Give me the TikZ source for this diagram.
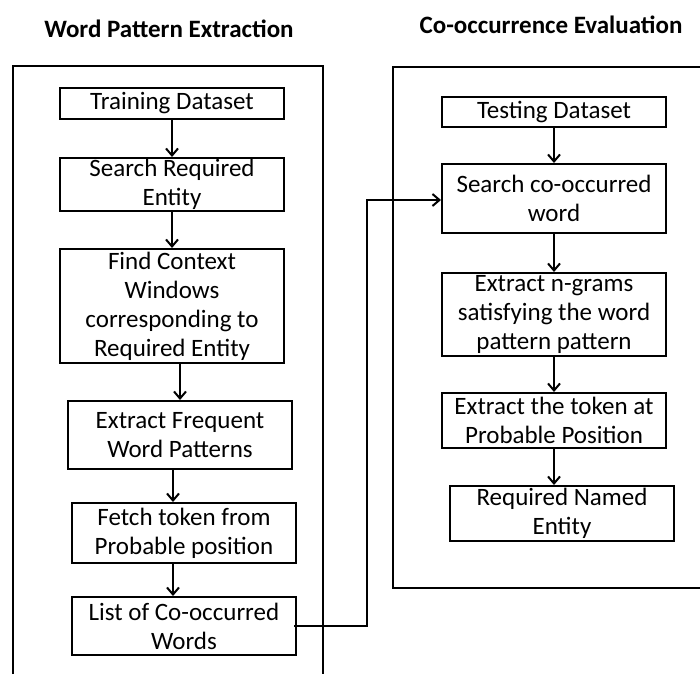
\documentclass[tikz,border=0pt]{standalone}
\usepackage{fontspec}
\setmainfont{Carlito}
\usetikzlibrary{arrows.meta}

\begin{document}
\begin{tikzpicture}[x=1pt,y=-1pt,
		blk/.style={draw,line width=2pt,minimum width=224pt,align=center,inner sep=0pt,font=\fontsize{25}{29}\selectfont},
		arr/.style={line width=2pt,-{Straight Barb[length=7pt,width=12pt]}},
		ttl/.style={font=\fontsize{25}{29}\selectfont\bfseries}]
	\useasboundingbox (0,0) rectangle (700,674);
	% titles and frames
	\node[ttl] (ttlL) at (169,29) {Word Pattern Extraction};
	\node[ttl] (ttlR) at (551,25) {Co-occurrence Evaluation};
	\draw[line width=2pt] (13,674)--(13,66)--(323,66)--(323,674);
	\draw[line width=2pt] (700,67)--(393,67)--(393,588)--(700,588);
	% left column
	\node[blk,minimum height=31pt] (train) at (172,103.5) {Training Dataset};
	\node[blk,minimum height=53pt] (srch) at (172,184.5) {Search Required\\Entity};
	\node[blk,minimum height=114pt] (ctx) at (172,306) {Find Context\\Windows\\corresponding to\\Required Entity};
	\node[blk,minimum height=68pt] (freq) at (180,435) {Extract Frequent\\Word Patterns};
	\node[blk,minimum height=60pt] (fetch) at (184,533) {Fetch token from\\Probable position};
	\node[blk,minimum height=58pt] (list) at (184,626) {List of Co-occurred\\Words};
	% right column
	\node[blk,minimum height=30pt] (test) at (554,112) {Testing Dataset};
	\node[blk,minimum height=69pt] (cooc) at (554,198.5) {Search co-occurred\\word};
	\node[blk,minimum height=83pt] (ngram) at (554,314.5) {Extract n-grams\\satisfying the word\\pattern pattern};
	\node[blk,minimum height=55pt] (tok) at (554,420.5) {Extract the token at\\Probable Position};
	\node[blk,minimum height=55pt] (ne) at (562,513.5) {Required Named\\Entity};
	% arrows
	\draw[arr] (train)--(srch);
	\draw[arr] (srch)--(ctx);
	\draw[arr] (ctx.south -| freq.north)--(freq.north);
	\draw[arr] ([xshift=-7pt]freq.south)--([xshift=-7pt]freq.south |- fetch.north);
	\draw[arr] ([xshift=-11pt]fetch.south)--([xshift=-11pt]fetch.south |- list.north);
	\draw[arr] (test)--(cooc);
	\draw[arr] (cooc)--(ngram);
	\draw[arr] (ngram)--(ngram.south |- tok.north);
	\draw[arr] (tok.south)--(tok.south |- ne.north);
	\coordinate (turn) at (367,200);
	\draw[arr] ([xshift=-3pt]list.east) -| (turn) -- (cooc.west |- turn);
\end{tikzpicture}
\end{document}
